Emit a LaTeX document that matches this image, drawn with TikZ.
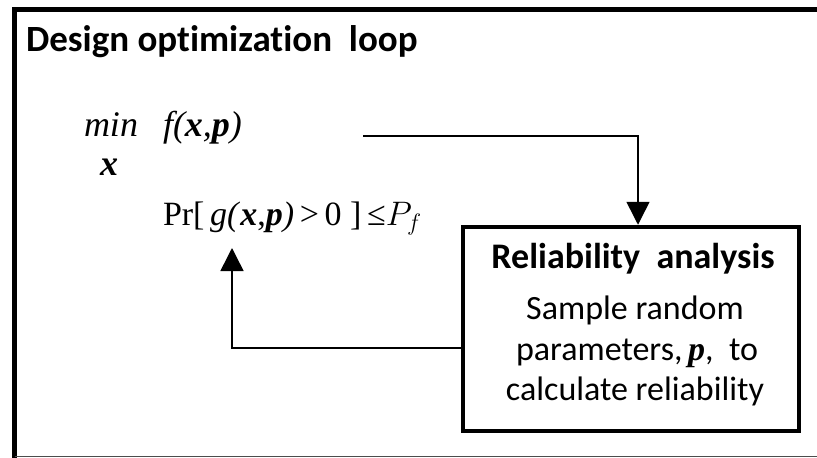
\documentclass[tikz,border=0pt]{standalone}
\usepackage{fix-cm}
\usepackage{fontspec}
\setmainfont{Carlito}[Ligatures=NoCommon]
\newfontfamily\timesfont{Liberation Serif}
\usetikzlibrary{arrows.meta}

\tikzset{
  frame/.style={line width=5pt, line cap=rect},
  flow/.style={line width=1.5pt, -{Triangle[length=23pt,width=23pt]}},
  relbox/.style={draw, line width=4.5pt, minimum width=336pt, minimum height=204pt, inner sep=0pt},
  txt/.style={inner sep=0pt, outer sep=0pt},
  serif/.style={font=\timesfont\fontsize{36}{42}\selectfont},
  boxhead/.style={font=\fontsize{36}{42}\selectfont\bfseries},
  boxbody/.style={font=\fontsize{34}{40}\selectfont},
}

\newcommand{\bx}{\textbf{\textit{x}}}
\newcommand{\bp}{\textbf{\textit{p}}}

\begin{document}
\begin{tikzpicture}[x=1pt,y=-1pt]
  \useasboundingbox (0,0) rectangle (817,458);

  % outer frame: thick top and left, thin bottom, open right
  \draw[frame] (817,9.5) -- (14.5,9.5) -- (14.5,456);
  \draw[line width=1.2pt, black!70] (14.5,456.6) -- (817,456.6);

  % title
  \node[txt, anchor=base west, font=\fontsize{37}{44}\selectfont\bfseries] (title) at (26,51)
    {Design optimization\ \ loop};

  % objective
  \node[txt, serif, anchor=base] (min) at (111,136) {\itshape min};
  \node[txt, serif, anchor=base] (minvar) at (109,175) {\bx};
  \node[txt, serif, anchor=base west] (obj) at (163,136) {\itshape f(\bx,\bp)};

  % constraint
  \node[txt, anchor=base west, font=\timesfont\fontsize{34}{40}\selectfont] (con) at (163,225)
    {Pr[\,\textit{g}\textit{(}\bx,\bp\textit{)}\,>\,0\ ]\,≤$P_f$};

  % reliability analysis box
  \node[relbox] (rel) at (631,329) {};
  \node[txt, boxhead, anchor=base] (reltitle) at (633,268) {Reliability\ \ analysis};
  \node[txt, boxbody, anchor=base] (rel1) at (635,319) {Sample random};
  \node[txt, boxbody, anchor=base] (rel2) at (637,360)
    {parameters,\,{\timesfont\bp},\ \ to};
  \node[txt, boxbody, anchor=base] (rel3) at (635,400) {calculate reliability};

  % connectors
  \coordinate (objout) at (363,136);
  \coordinate (conin) at (232,248);
  \draw[flow] (objout) -| (rel.north -| 638,0);
  \draw[flow] (rel.west |- 0,348) -| (conin);
\end{tikzpicture}
\end{document}
